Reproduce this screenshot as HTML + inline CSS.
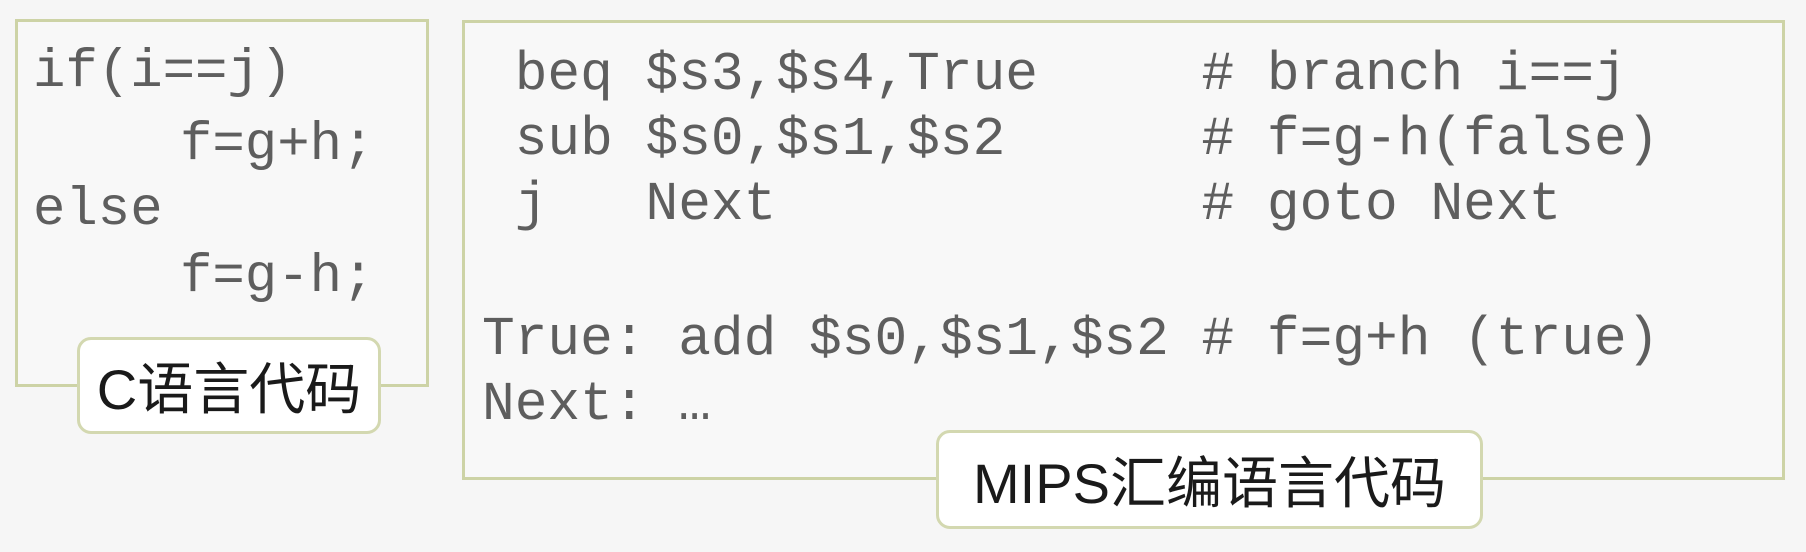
<!DOCTYPE html>
<html><head><meta charset="utf-8"><style>
html,body{margin:0;padding:0;}
body{width:1806px;height:552px;background:#f6f6f6;position:relative;overflow:hidden;}
.box{position:absolute;border:3px solid #cdd3a6;background:#f8f8f8;box-sizing:border-box;}
.t{position:absolute;font-family:"Liberation Mono",monospace;color:#5e5e5e;white-space:pre;line-height:1;}
.l{font-size:54px;}
.r{font-size:54.5px;}
.lab{position:absolute;background:#fff;border:3px solid #d3d8b0;border-radius:14px;box-sizing:border-box;font-family:"Liberation Sans","Noto Sans CJK SC",sans-serif;color:#1a1a1a;font-size:56px;display:flex;align-items:center;justify-content:center;}
</style></head><body>
<div class="box" style="left:15px;top:19px;width:414px;height:368px;"></div>
<div class="box" style="left:462px;top:20px;width:1323px;height:460px;"></div>

<div class="t l" style="left:33px;top:46px;">if(i==j)</div>
<div class="t l" style="left:180px;top:119px;">f=g+h;</div>
<div class="t l" style="left:33px;top:184px;">else</div>
<div class="t l" style="left:180px;top:251px;">f=g-h;</div>

<div class="t r" style="left:482px;top:49px;"> beq $s3,$s4,True     # branch i==j</div>
<div class="t r" style="left:482px;top:114px;"> sub $s0,$s1,$s2      # f=g-h(false)</div>
<div class="t r" style="left:482px;top:179px;"> j   Next             # goto Next</div>
<div class="t r" style="left:482px;top:314px;">True: add $s0,$s1,$s2 # f=g+h (true)</div>
<div class="t r" style="left:482px;top:379px;">Next: …</div>

<div class="lab" style="left:77px;top:337px;width:304px;height:97px;">C语言代码</div>
<div class="lab" style="left:936px;top:430px;width:547px;height:99px;">MIPS汇编语言代码</div>
</body></html>
